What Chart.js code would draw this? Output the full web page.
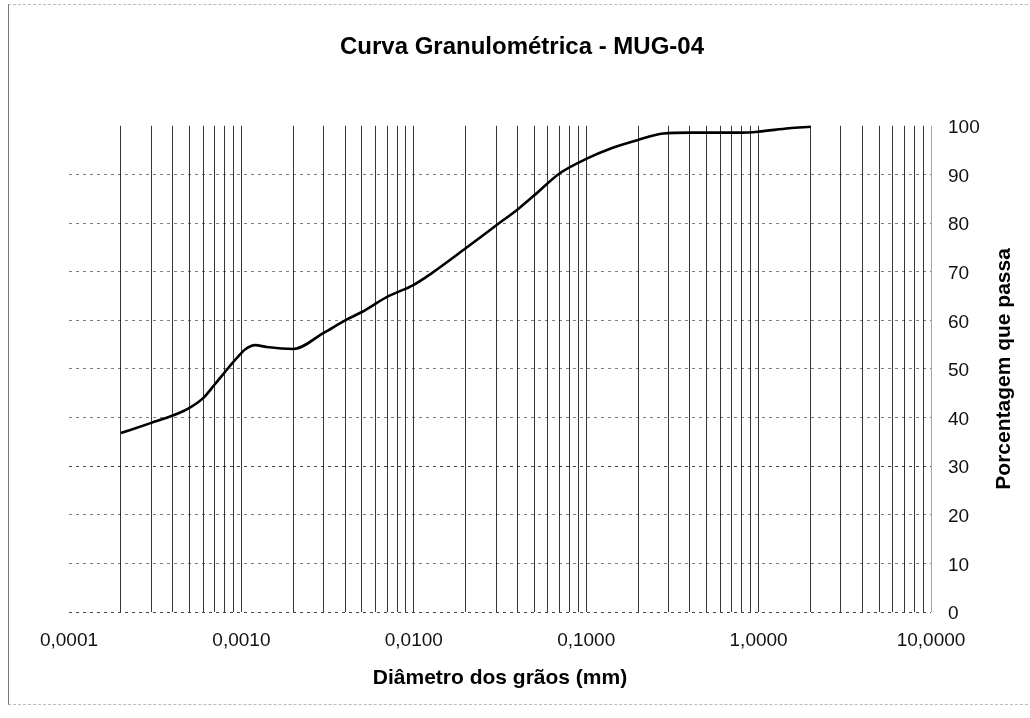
<!DOCTYPE html>
<html lang="pt">
<head>
<meta charset="utf-8">
<title>Curva Granulométrica - MUG-04</title>
<script src="https://cdn.jsdelivr.net/npm/chart.js@4/dist/chart.umd.min.js"></script>
<style>
  html, body { margin: 0; padding: 0; background: #fff; }
  #wrap { position: relative; width: 1030px; height: 718px; overflow: hidden; }
  #frame {
    position: absolute; left: 8px; top: 4px; width: 1030px; height: 701px;
    border-left: 1px solid #777; border-top: 1px dashed #bbb; border-bottom: 1px dashed #bbb;
    box-sizing: border-box; pointer-events: none;
  }
  canvas { position: absolute; left: 0; top: 0; }
</style>
</head>
<body>
<div id="wrap">
  <canvas id="grafico" width="1030" height="718"></canvas>
  <div id="frame"></div>
</div>
<script>
// Diâmetro dos grãos (mm) e porcentagem que passa
const diametros = [0.0002, 0.0003, 0.0004, 0.0005, 0.0006, 0.0007, 0.0008, 0.00095, 0.00105, 0.0012,
                   0.0014, 0.002, 0.003, 0.004, 0.005, 0.007, 0.01, 0.0125, 0.02, 0.03,
                   0.04, 0.05, 0.07, 0.1, 0.14, 0.2, 0.28, 0.4, 0.8, 1.0, 1.5, 2.0];
const passantes = [36.8, 38.9, 40.4, 42.0, 44.0, 46.8, 49.3, 52.4, 54.0, 54.9,
                   54.5, 54.1, 57.4, 60.0, 61.7, 64.8, 67.3, 69.5, 74.8, 79.5,
                   82.8, 85.7, 90.2, 93.2, 95.4, 97.1, 98.4, 98.6, 98.6, 98.8, 99.5, 99.8];

// Eixo logarítmico: décadas rotuladas e divisões secundárias
const decadas = [0.0001, 0.001, 0.01, 0.1, 1, 10];
const rotulosX = ['0,0001', '0,0010', '0,0100', '0,1000', '1,0000', '10,0000'];
const divisoes = [1, 2, 3, 4, 5, 6, 7, 8, 9];
const rotulosY = [0, 10, 20, 30, 40, 50, 60, 70, 80, 90, 100];

const FONTE = '"Liberation Sans", Arial, Helvetica, sans-serif';

const valoresGradeX = [];
decadas.slice(0, -1).forEach(d => divisoes.forEach(m => valoresGradeX.push(+(d * m).toPrecision(6))));
valoresGradeX.push(decadas[decadas.length - 1]);

function indiceDecada(v) {
  return decadas.findIndex(d => Math.abs(Math.log10(v) - Math.log10(d)) < 1e-9);
}

// Título do eixo vertical, lido de baixo para cima
const tituloEixoY = {
  id: 'tituloEixoY',
  afterDraw(chart) {
    const { ctx, chartArea, scales } = chart;
    ctx.save();
    ctx.translate(scales.y.right - 26, (chartArea.top + chartArea.bottom) / 2);
    ctx.rotate(-Math.PI / 2);
    ctx.font = 'bold 21px ' + FONTE;
    ctx.fillStyle = '#000';
    ctx.textAlign = 'center';
    ctx.textBaseline = 'middle';
    ctx.fillText('Porcentagem que passa', 0, 0);
    ctx.restore();
  }
};

new Chart(document.getElementById('grafico'), {
  type: 'scatter',
  data: {
    datasets: [{
      label: 'MUG-04',
      data: diametros.map((d, i) => ({ x: d, y: passantes[i] })),
      xAxisID: 'x',
      yAxisID: 'y',
      showLine: true,
      borderColor: '#000',
      borderWidth: 2.6,
      pointRadius: 0,
      cubicInterpolationMode: 'monotone',
      clip: false
    }]
  },
  options: {
    responsive: false,
    animation: false,
    devicePixelRatio: 1,
    layout: { padding: { left: 14, right: 0, top: 0, bottom: 23 } },
    plugins: {
      legend: { display: false },
      tooltip: { enabled: false },
      title: {
        display: true,
        text: 'Curva Granulométrica - MUG-04',
        color: '#000',
        font: { family: FONTE, size: 24, weight: 'bold' },
        padding: { top: 33, bottom: 64 }
      }
    },
    scales: {
      x: {
        type: 'logarithmic',
        position: 'bottom',
        min: decadas[0],
        max: decadas[decadas.length - 1],
        afterBuildTicks: s => { s.ticks = valoresGradeX.map(v => ({ value: v, major: indiceDecada(v) >= 0 })); },
        afterFit: s => { s.height = 83; },
        ticks: {
          autoSkip: false,
          maxRotation: 0,
          minRotation: 0,
          padding: 17,
          color: '#111',
          font: { family: FONTE, size: 19 },
          callback: v => { const i = indiceDecada(v); return i >= 0 ? rotulosX[i] : ''; }
        },
        grid: {
          drawTicks: false,
          lineWidth: 1,
          color: c => {
            const v = c.tick ? c.tick.value : 0;
            if (Math.abs(v - decadas[0]) < 1e-12) return 'rgba(0,0,0,0)';
            if (Math.abs(v - decadas[decadas.length - 1]) < 1e-9) return 'rgba(0,0,0,0.35)';
            return 'rgba(0,0,0,0.78)';
          }
        },
        border: { display: false },
        title: {
          display: true,
          text: 'Diâmetro dos grãos (mm)',
          color: '#000',
          font: { family: FONTE, size: 21, weight: 'bold' },
          padding: { top: 4, bottom: 4 }
        }
      },
      y: {
        type: 'linear',
        position: 'right',
        min: 0,
        max: 100,
        afterBuildTicks: s => { s.ticks = rotulosY.map(v => ({ value: v })); },
        afterFit: s => { s.width = 99; },
        ticks: {
          padding: 17,
          labelOffset: 2,
          color: '#111',
          font: { family: FONTE, size: 19 }
        },
        grid: {
          drawTicks: false,
          lineWidth: 1,
          color: c => {
            const v = c.tick ? c.tick.value : 0;
            if (v === 100) return 'rgba(0,0,0,0)';
            if (v === 0 || v === 30) return 'rgba(0,0,0,0.72)';
            return 'rgba(0,0,0,0.5)';
          }
        },
        border: { display: false, dash: [3, 4] }
      },
      // margem à esquerda da área de plotagem
      margem: {
        type: 'linear',
        position: 'left',
        afterFit: s => { s.width = 55; },
        ticks: { display: false },
        grid: { display: false },
        border: { display: false }
      }
    }
  },
  plugins: [tituloEixoY]
});
</script>
</body>
</html>
